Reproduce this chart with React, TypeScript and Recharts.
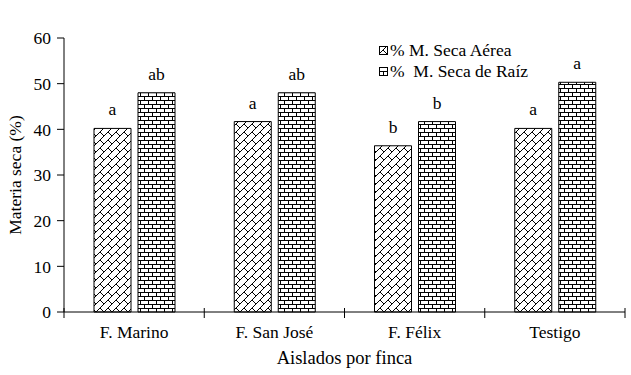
import { Bar, BarChart, Label, LabelList, XAxis, YAxis } from 'recharts'

const categories = ['F. Marino', 'F. San José', 'F. Félix', 'Testigo']
const secaAerea = [40.2, 41.7, 36.4, 40.2]
const secaRaiz = [48.0, 48.0, 41.7, 50.3]
const letrasAerea = ['a', 'a', 'b', 'a']
const letrasRaiz = ['ab', 'ab', 'b', 'a']
const yTicks = [0, 10, 20, 30, 40, 50, 60]

const data = categories.map((name, i) => ({
  name,
  aerea: secaAerea[i],
  raiz: secaRaiz[i],
  letraAerea: letrasAerea[i],
  letraRaiz: letrasRaiz[i],
}))

const FONT = "'Liberation Serif', 'Times New Roman', Times, 'DejaVu Serif', serif"
const W = 631
const H = 375
const LEFT = 64
const RIGHT = 6
const HALF_BAND = (W - LEFT - RIGHT) / categories.length / 2

function CategoryTick(props: any) {
  const { x, y, payload, index } = props
  const last = index === categories.length - 1
  return (
    <g>
      <line x1={x - HALF_BAND} x2={x - HALF_BAND} y1={y - 4} y2={y + 6} stroke="#000" />
      {last && <line x1={x + HALF_BAND} x2={x + HALF_BAND} y1={y - 4} y2={y + 6} stroke="#000" />}
      <text x={x} y={y + 26} textAnchor="middle" fill="#000" style={{ fontFamily: FONT, fontSize: 17.5 }}>
        {payload.value}
      </text>
    </g>
  )
}

function YTitle(props: any) {
  const { viewBox } = props
  const cy = viewBox.y + viewBox.height / 2
  return (
    <text
      x={15}
      y={cy}
      transform={`rotate(-90 15 ${cy})`}
      textAnchor="middle"
      dominantBaseline="central"
      fill="#000"
      style={{ fontFamily: FONT, fontSize: 17.5 }}
    >
      Materia seca (%)
    </text>
  )
}

function XTitle(props: any) {
  const { viewBox } = props
  return (
    <text
      x={viewBox.x + viewBox.width / 2}
      y={viewBox.y + 52}
      textAnchor="middle"
      fill="#000"
      style={{ fontFamily: FONT, fontSize: 18.5 }}
    >
      Aislados por finca
    </text>
  )
}

function LegendBox() {
  const items = [
    { fill: 'url(#diagBrick)', text: '% M. Seca Aérea' },
    { fill: 'url(#hBrick)', text: '%  M. Seca de Raíz' },
  ]
  return (
    <div
      style={{
        position: 'absolute',
        left: 379,
        top: 40,
        fontFamily: FONT,
        fontSize: 17.5,
        color: '#000',
        lineHeight: '21px',
      }}
    >
      {items.map((it) => (
        <div key={it.text} style={{ display: 'flex', alignItems: 'center', whiteSpace: 'pre' }}>
          <svg width={9} height={9} style={{ marginRight: 2 }}>
            <rect x={0.5} y={0.5} width={8} height={8} fill={it.fill} stroke="#000" />
          </svg>
          {it.text}
        </div>
      ))}
    </div>
  )
}

const labelStyle = { fontFamily: FONT, fontSize: 17.5 }

export default function App() {
  return (
    <div style={{ position: 'absolute', left: 0, top: 0, width: W, height: H, background: '#fff', fontFamily: FONT }}>
      <BarChart
        width={W}
        height={H}
        data={data}
        margin={{ top: 38, right: RIGHT, left: 0, bottom: 0 }}
        barSize={37}
        barGap={7}
      >
        <defs>
          <pattern id="diagBrick" width={8} height={8} patternUnits="userSpaceOnUse">
            <rect width={8} height={8} fill="#fff" />
            <path
              d="M0 8 L8 0 M4 4 L8 8 M-1 1 L1 -1 M7 9 L9 7"
              stroke="#000"
              strokeWidth={1}
            />
          </pattern>
          <pattern id="hBrick" width={8} height={8} patternUnits="userSpaceOnUse">
            <rect width={8} height={8} fill="#fff" />
            <path
              d="M0 0.5 H8 M0 4.5 H8 M0.5 0.5 V4.5 M4.5 4.5 V8"
              stroke="#000"
              strokeWidth={1}
            />
          </pattern>
        </defs>
        <XAxis
          dataKey="name"
          height={63}
          axisLine={{ stroke: '#000' }}
          tickLine={false}
          tickSize={0}
          tickMargin={0}
          interval={0}
          tick={<CategoryTick />}
        >
          <Label content={<YTitleGuard />} />
        </XAxis>
        <YAxis
          width={LEFT}
          domain={[0, 60]}
          ticks={yTicks}
          interval={0}
          axisLine={{ stroke: '#000' }}
          tickLine={{ stroke: '#000' }}
          tickSize={7}
          tickMargin={6}
          tick={{ fill: '#000', style: labelStyle }}
        >
          <Label content={<YTitle />} />
        </YAxis>
        <Bar dataKey="aerea" fill="url(#diagBrick)" stroke="#000" strokeWidth={1} isAnimationActive={false}>
          <LabelList dataKey="letraAerea" position="top" offset={13} fill="#000" style={labelStyle} />
        </Bar>
        <Bar dataKey="raiz" fill="url(#hBrick)" stroke="#000" strokeWidth={1} isAnimationActive={false}>
          <LabelList dataKey="letraRaiz" position="top" offset={13} fill="#000" style={labelStyle} />
        </Bar>
      </BarChart>
      <LegendBox />
    </div>
  )
}

function YTitleGuard(props: any) {
  return <XTitle {...props} />
}
